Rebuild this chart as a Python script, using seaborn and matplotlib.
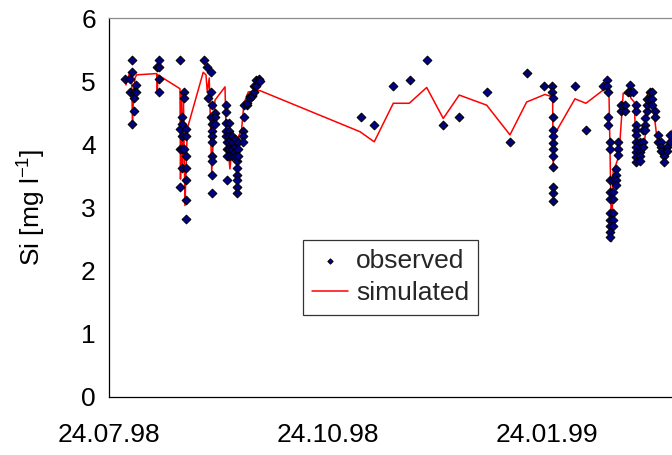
import matplotlib
matplotlib.use("Agg")
import matplotlib.pyplot as plt
import matplotlib.dates as mdates
import numpy as np
import pandas as pd
import seaborn as sns

# ---------------- data ----------------
obs_time = [
    "1998-07-30 17:00", "1998-08-01 20:00", "1998-08-02 13:00", "1998-08-03 12:00", "1998-08-04 13:00",
    "1998-08-13 04:00", "1998-08-14 00:00", "1998-08-22 20:00", "1998-08-23 16:00", "1998-08-24 12:00",
    "1998-08-25 08:00", "1998-09-02 01:00", "1998-09-03 01:00", "1998-09-03 17:00", "1998-09-04 21:00",
    "1998-09-05 10:00", "1998-09-06 13:00", "1998-09-10 23:00", "1998-09-11 17:00", "1998-09-12 10:00",
    "1998-09-13 16:00", "1998-09-14 23:00", "1998-09-15 16:00", "1998-09-16 10:00", "1998-09-18 04:00",
    "1998-09-18 22:00", "1998-09-19 23:00", "1998-09-21 06:00", "1998-09-22 02:00", "1998-09-23 01:00",
    "1998-09-23 23:00", "1998-09-24 20:00", "1998-09-25 11:00",
    "1998-11-06 18:00", "1998-11-12 11:00", "1998-11-20 11:00", "1998-11-27 11:00", "1998-12-04 18:00",
    "1998-12-11 11:00", "1998-12-18 04:00", "1998-12-29 17:00", "1999-01-08 12:00", "1999-01-15 12:00",
    "1999-01-22 22:00", "1999-01-26 00:00", "1999-01-26 10:00", "1999-02-04 19:00", "1999-02-09 07:00",
    "1999-02-16 17:00", "1999-02-18 02:00", "1999-02-18 19:00", "1999-02-19 12:00", "1999-02-20 23:00",
    "1999-02-22 00:00", "1999-02-22 21:00", "1999-02-24 08:00", "1999-02-26 00:00", "1999-02-27 02:00",
    "1999-02-27 22:00", "1999-03-01 09:00", "1999-03-02 15:00", "1999-03-04 02:00", "1999-03-05 09:00",
    "1999-03-06 05:00", "1999-03-07 06:00", "1999-03-08 07:00", "1999-03-09 09:00", "1999-03-10 10:00",
    "1999-03-11 21:00", "1999-03-13 03:00", "1999-03-14 05:00", "1999-03-15 11:00", "1999-03-16 17:00",
]
obs_si = [
    [5.03], [5.03, 4.83], [5.33, 5.14, 4.32], [4.83, 4.74, 4.53], [4.94, 4.83],
    [5.23], [5.33, 5.23, 5.03, 4.83], [5.33, 4.24, 3.92, 3.32], [4.43, 4.32, 4.13, 3.92, 3.63], [4.83, 4.74, 3.92],
    [4.24, 4.13, 3.82, 3.63, 3.43, 3.12, 2.82], [5.34], [5.23], [4.74], [5.14, 4.83, 4.43],
    [4.62, 4.32, 4.21, 4.13, 4.04, 3.82, 3.73, 3.52, 3.23], [4.50, 4.43, 4.32], [4.62, 4.51, 4.33, 4.21, 4.13],
    [4.04, 3.92, 3.82, 3.43], [4.33, 4.21, 4.13, 4.04, 3.92, 3.82],
    [4.13, 4.04, 3.92, 3.82], [4.08, 3.96, 3.88, 3.82], [3.73, 3.62, 3.52, 3.43, 3.32, 3.23], [4.04, 3.92, 3.82],
    [4.21, 4.13, 4.04],
    [4.43, 4.62], [4.62, 4.65], [4.76, 4.74], [4.78, 4.76], [4.83, 4.92],
    [5.02, 4.93], [5.03, 5.00], [5.00],
    [4.43], [4.31], [4.93], [5.02], [5.33],
    [4.31], [4.43], [4.83], [4.04], [5.13],
    [4.93], [4.93, 4.83], [4.74, 4.43, 4.22, 4.13, 4.02, 3.92, 3.81, 3.64, 3.33, 3.23, 3.11], [4.93], [4.22],
    [4.93], [5.02, 4.93], [4.83, 4.43, 4.31], [4.04, 3.92, 3.43, 3.24, 3.13, 2.92, 2.81, 2.71, 2.62, 2.53],
    [3.43, 3.24, 3.13, 2.92, 2.81, 2.71],
    [3.61, 3.52, 3.43, 3.35], [4.04, 3.92, 3.83], [4.52, 4.62], [4.52, 4.62], [4.83],
    [4.94, 4.83], [4.83], [4.62, 4.52, 4.31, 4.22, 4.14, 4.04, 3.96, 3.88, 3.80, 3.72], [4.04, 3.88, 3.82, 3.73],
    [4.22, 4.04, 3.96],
    [4.41, 4.31, 4.22], [4.52, 4.62, 4.72], [4.83, 4.72], [4.83, 4.72, 4.62], [4.52, 4.43],
    [4.14, 4.04], [4.04, 3.96, 3.90], [3.86, 3.82, 3.72], [3.96, 3.90], [4.04, 4.14],
]

sim_time = [
    "1998-07-31 03:00", "1998-08-01 13:00", "1998-08-02 13:00", "1998-08-02 21:00", "1998-08-03 07:00",
    "1998-08-03 22:00", "1998-08-04 15:00", "1998-08-13 01:00", "1998-08-13 07:00", "1998-08-13 14:00",
    "1998-08-22 20:00", "1998-08-23 01:00", "1998-08-23 11:00", "1998-08-23 21:00", "1998-08-24 07:00",
    "1998-08-24 22:00", "1998-08-25 22:00", "1998-09-01 14:00", "1998-09-02 18:00", "1998-09-03 07:00",
    "1998-09-04 03:00", "1998-09-05 04:00", "1998-09-06 13:00", "1998-09-10 18:00", "1998-09-11 04:00",
    "1998-09-12 20:00", "1998-09-14 02:00", "1998-09-14 23:00", "1998-09-16 05:00", "1998-09-17 18:00",
    "1998-09-18 17:00", "1998-09-20 13:00", "1998-09-25 11:00",
    "1998-11-06 11:00", "1998-11-12 11:00", "1998-11-20 11:00", "1998-11-27 04:00", "1998-12-04 12:00",
    "1998-12-11 11:00", "1998-12-18 04:00", "1998-12-29 17:00", "1999-01-08 12:00", "1999-01-15 12:00",
    "1999-01-23 05:00", "1999-01-26 10:00", "1999-01-26 15:00", "1999-01-27 10:00", "1999-02-04 19:00",
    "1999-02-09 10:00", "1999-02-18 02:00", "1999-02-19 02:00", "1999-02-20 05:00", "1999-02-20 21:00",
    "1999-02-21 22:00", "1999-02-23 07:00", "1999-02-25 02:00", "1999-02-27 22:00", "1999-02-28 08:00",
    "1999-03-01 17:00", "1999-03-02 17:00", "1999-03-05 22:00", "1999-03-06 12:00", "1999-03-07 08:00",
    "1999-03-09 00:00", "1999-03-10 03:00", "1999-03-11 03:00", "1999-03-13 06:00", "1999-03-15 08:00",
    "1999-03-17 10:00",
]
sim_si = [
    4.94, 5.12, 5.05, 4.25, 4.80,
    5.05, 5.10, 5.12, 4.83, 5.10,
    4.88, 3.45, 4.80, 3.60, 4.70,
    3.03, 4.25, 5.14, 5.10, 4.83,
    5.05, 3.56, 4.70, 4.91, 4.21,
    3.61, 4.10, 3.80, 4.10, 4.25,
    4.65, 4.83, 4.85,
    4.20, 4.04, 4.65, 4.65, 4.90,
    4.41, 4.78, 4.62, 4.15, 4.67,
    4.79, 4.75, 3.64, 4.17, 4.72,
    4.65, 4.90, 4.85, 2.46, 3.61,
    3.67, 3.82, 4.81, 4.78, 4.73,
    4.67, 3.72, 3.90, 4.30, 4.83,
    4.83, 4.46, 4.14, 3.93, 3.90,
    4.22,
]

tick_dates = ["1998-07-24", "1998-10-24", "1999-01-24"]
y_ticks = [0, 1, 2, 3, 4, 5, 6]

# ---------------- frames ----------------
obs_df = pd.DataFrame({"time": obs_time, "Si": obs_si}).explode("Si")
obs_df["time"] = pd.to_datetime(obs_df["time"])
obs_df["Si"] = obs_df["Si"].astype(float)
sim_df = pd.DataFrame({"time": pd.to_datetime(sim_time), "Si": sim_si})

# ---------------- style ----------------
sns.set_theme(style="white")
plt.rcParams["font.family"] = ["Liberation Sans", "DejaVu Sans"]
plt.rcParams["mathtext.fontset"] = "custom"
plt.rcParams["mathtext.rm"] = "Liberation Sans"
plt.rcParams["mathtext.it"] = "Liberation Sans:italic"

fs = 19
fig = plt.figure(figsize=(6.72, 4.55), dpi=100)
ax = fig.add_axes([109 / 672, 1 - 397 / 455, 1 - 109 / 672, (397 - 18) / 455])

sns.lineplot(data=sim_df, x="time", y="Si", ax=ax, color="#ff0000", lw=1.1,
             estimator=None, sort=False, label="simulated", zorder=2)
sns.scatterplot(data=obs_df, x="time", y="Si", ax=ax, marker="D", s=20,
                color="#000080", edgecolor="black", linewidth=0.7,
                label="observed", zorder=3)

ax.set_xlim(pd.Timestamp("1998-07-24"), pd.Timestamp("1999-03-17 14:00"))
ax.set_ylim(0, 6)
ax.set_yticks(y_ticks)
ax.set_xticks(pd.to_datetime(tick_dates))
ax.xaxis.set_major_formatter(mdates.DateFormatter("%d.%m.%y"))

ax.spines["right"].set_visible(False)
ax.spines["top"].set_color("#8c8c8c")
ax.spines["top"].set_linewidth(0.9)
for side in ["left", "bottom"]:
    ax.spines[side].set_color("black")
    ax.spines[side].set_linewidth(0.9)

ax.tick_params(axis="both", which="major", direction="out", length=6.5, width=0.9,
               color="black", labelsize=fs, labelcolor="black")
ax.tick_params(axis="x", pad=12)
ax.tick_params(axis="y", pad=3)
ax.set_xlabel("")
ax.set_ylabel(r"Si [mg l$^{-1}$]", fontsize=fs, color="black", labelpad=24)

handles, labels = ax.get_legend_handles_labels()
order = [labels.index("observed"), labels.index("simulated")]
leg = ax.legend([handles[i] for i in order], [labels[i] for i in order],
                loc="lower left", bbox_to_anchor=(0.345, 0.2175), borderaxespad=0,
                fontsize=fs, frameon=True, fancybox=False, edgecolor="black",
                markerscale=0.6, handlelength=1.35, handletextpad=0.3,
                borderpad=0.35, labelspacing=0.3)
leg.get_frame().set_linewidth(0.9)

ax.set_facecolor("white")
fig.patch.set_facecolor("white")
fig.savefig("out.png", dpi=100)
